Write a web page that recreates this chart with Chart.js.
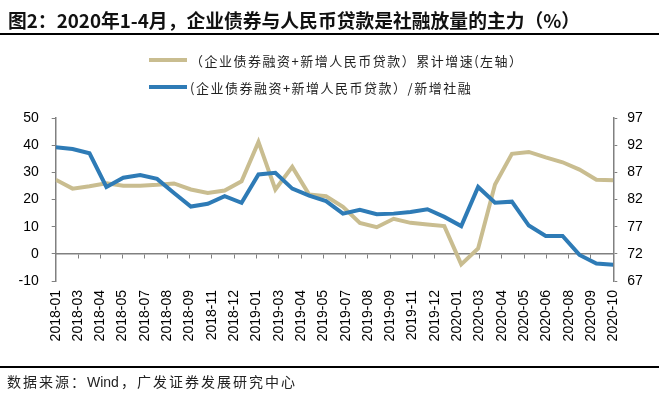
<!DOCTYPE html>
<html lang="zh-CN">
<head>
<meta charset="utf-8">
<title>图2</title>
<script src="https://cdn.jsdelivr.net/npm/chart.js@4.4.1/dist/chart.umd.min.js"></script>
<style>
    html, body { margin: 0; padding: 0; background: #fff; }
    #page { position: relative; width: 659px; height: 397px; overflow: hidden; }
    #chart { position: absolute; left: 0; top: 0; }
    .title {
        position: absolute; left: 8px; top: 7px; white-space: nowrap;
        font: bold 18.8px "Noto Sans CJK SC", sans-serif; line-height: 25px; color: #111;
    }
    .rule { position: absolute; left: 0; width: 659px; height: 2px; background: #000; }
    .legend-row {
        position: absolute; left: 149px; height: 20px;
        display: flex; align-items: center; white-space: nowrap;
    }
    .swatch { width: 38px; height: 4px; margin-right: 3px; }
    .legend-row span { font: 13px "Noto Sans CJK SC", sans-serif; letter-spacing: 1.5px; color: #222; }
    .source {
        position: absolute; left: 7px; top: 371px; white-space: nowrap;
        font: 14px "Noto Sans CJK SC", sans-serif; line-height: 20px; letter-spacing: 2px; color: #222;
    }
    .source .latin { font-family: "Liberation Sans", Arial, sans-serif; letter-spacing: 0; margin-right: 2px; }
</style>
</head>
<body>
<div id="page">
    <canvas id="chart" width="659" height="397"></canvas>
    <div class="title">图2：2020年1-4月，企业债券与人民币贷款是社融放量的主力（%）</div>
    <div class="rule" style="top:33px"></div>
    <div id="legend"></div>
    <div class="rule" style="top:366px"></div>
    <div class="source">数据来源：<span class="latin">Wind</span>，广发证券发展研究中心</div>
</div>
<script>
"use strict";

// ---------- Data ----------

// monthly points, 2018-01 .. 2020-10
const MONTHS = [
    "2018-01", "2018-02", "2018-03", "2018-04", "2018-05", "2018-06",
    "2018-07", "2018-08", "2018-09", "2018-10", "2018-11", "2018-12",
    "2019-01", "2019-02", "2019-03", "2019-04", "2019-05", "2019-06",
    "2019-07", "2019-08", "2019-09", "2019-10", "2019-11", "2019-12",
    "2020-01", "2020-02", "2020-03", "2020-04", "2020-05", "2020-06",
    "2020-07", "2020-08", "2020-09", "2020-10",
];

// labels as printed under the axis (evenly spaced, not one per month)
const TICK_LABELS = [
    "2018-01", "2018-03", "2018-04", "2018-05", "2018-07", "2018-08", "2018-09",
    "2018-11", "2018-12", "2019-01", "2019-03", "2019-04", "2019-05", "2019-07",
    "2019-08", "2019-09", "2019-11", "2019-12", "2020-01", "2020-03", "2020-04",
    "2020-05", "2020-06", "2020-08", "2020-09", "2020-10",
];

const SERIES_NAMES = [
    "（企业债券融资+新增人民币贷款）累计增速(左轴）",
    "(企业债券融资+新增人民币贷款）/新增社融",
];

// cumulative growth, left axis (%)
const GROWTH = [
    27.3, 24.0, 24.9, 26.0, 25.1, 25.1, 25.4, 25.9, 23.7, 22.4, 23.3, 26.7,
    41.2, 23.7, 32.0, 21.8, 21.2, 17.3, 11.4, 9.8, 12.9, 11.4, 10.8, 10.2,
    -3.9, 2.0, 25.5, 36.8, 37.5, 35.5, 33.7, 31.0, 27.3, 27.1,
];

// share of new social financing, right axis (%)
const SHARE = [
    91.6, 91.3, 90.5, 84.3, 86.0, 86.5, 85.8, 83.2, 80.7, 81.2, 82.6, 81.4,
    86.6, 86.9, 84.0, 82.7, 81.7, 79.4, 80.1, 79.3, 79.4, 79.7, 80.2, 78.8,
    77.1, 84.3, 81.4, 81.6, 77.2, 75.3, 75.3, 71.8, 70.2, 70.0,
];

const LEFT_RANGE = { min: -10, max: 50, step: 10 };
const RIGHT_RANGE = { min: 67, max: 97, step: 5 };

const COLORS = ["#C9BD90", "#2E7BB6"];
const AXIS_COLOR = "#808080";

// ---------- Build ----------

Chart.defaults.font.family = '"Liberation Sans", Arial, sans-serif';
Chart.defaults.font.size = 14;
Chart.defaults.color = "#000";

const lastIdx = MONTHS.length - 1;
const tickStep = lastIdx / (TICK_LABELS.length - 1);
const tickValues = TICK_LABELS.map((_, k) => k * tickStep);

const toPoints = (arr) => arr.map((v, i) => ({ x: i, y: v }));

function setTicks(scale) {
    scale.ticks = tickValues.map((v) => ({ value: v }));
}

function renderLegend() {
    const box = document.getElementById("legend");
    const tops = [50, 77];
    box.innerHTML = SERIES_NAMES.map((name, i) => `
      <div class="legend-row" style="top:${tops[i]}px">
        <div class="swatch" style="background:${COLORS[i]}"></div>
        <span>${name}</span>
      </div>`).join("");
}

const chart = new Chart(document.getElementById("chart"), {
    type: "line",
    data: {
        datasets: [
            {
                label: SERIES_NAMES[0],
                data: toPoints(GROWTH),
                borderColor: COLORS[0],
                backgroundColor: COLORS[0],
                borderWidth: 4,
                pointRadius: 0,
                tension: 0,
                yAxisID: "y",
                order: 1,
            },
            {
                label: SERIES_NAMES[1],
                data: toPoints(SHARE),
                borderColor: COLORS[1],
                backgroundColor: COLORS[1],
                borderWidth: 4,
                pointRadius: 0,
                tension: 0,
                yAxisID: "y1",
                order: 0,
            },
        ],
    },
    options: {
        responsive: false,
        animation: false,
        layout: { padding: { top: 118, left: 0, right: 0, bottom: 0 } },
        plugins: { legend: { display: false }, tooltip: { enabled: false } },
        scales: {
            // axis line sitting on the zero of the left axis
            x: {
                type: "linear",
                position: { y: 0 },
                min: 0,
                max: lastIdx,
                afterBuildTicks: setTicks,
                ticks: { display: false },
                grid: { drawOnChartArea: false, drawTicks: true, tickLength: 4, color: AXIS_COLOR },
                border: { color: AXIS_COLOR, width: 1.5 },
            },
            // date labels along the bottom
            xl: {
                type: "linear",
                axis: "x",
                position: "bottom",
                min: 0,
                max: lastIdx,
                afterBuildTicks: setTicks,
                afterFit: (s) => { s.height = 116; },
                ticks: {
                    autoSkip: false,
                    minRotation: 90,
                    maxRotation: 90,
                    padding: 9,
                    callback: (v, i) => TICK_LABELS[i],
                },
                grid: { display: false, drawTicks: false },
                border: { display: false },
            },
            y: {
                position: "left",
                min: LEFT_RANGE.min,
                max: LEFT_RANGE.max,
                afterFit: (s) => { s.width = 55.7; },
                ticks: { stepSize: LEFT_RANGE.step, padding: 13 },
                grid: { drawOnChartArea: false, tickLength: 4, color: AXIS_COLOR },
                border: { color: AXIS_COLOR, width: 1.5 },
            },
            y1: {
                position: "right",
                min: RIGHT_RANGE.min,
                max: RIGHT_RANGE.max,
                afterFit: (s) => { s.width = 45.7; },
                ticks: { stepSize: RIGHT_RANGE.step, padding: 10 },
                grid: { drawOnChartArea: false, tickLength: 4, color: AXIS_COLOR },
                border: { color: AXIS_COLOR, width: 1.5 },
            },
        },
    },
});

renderLegend();
</script>
</body>
</html>
